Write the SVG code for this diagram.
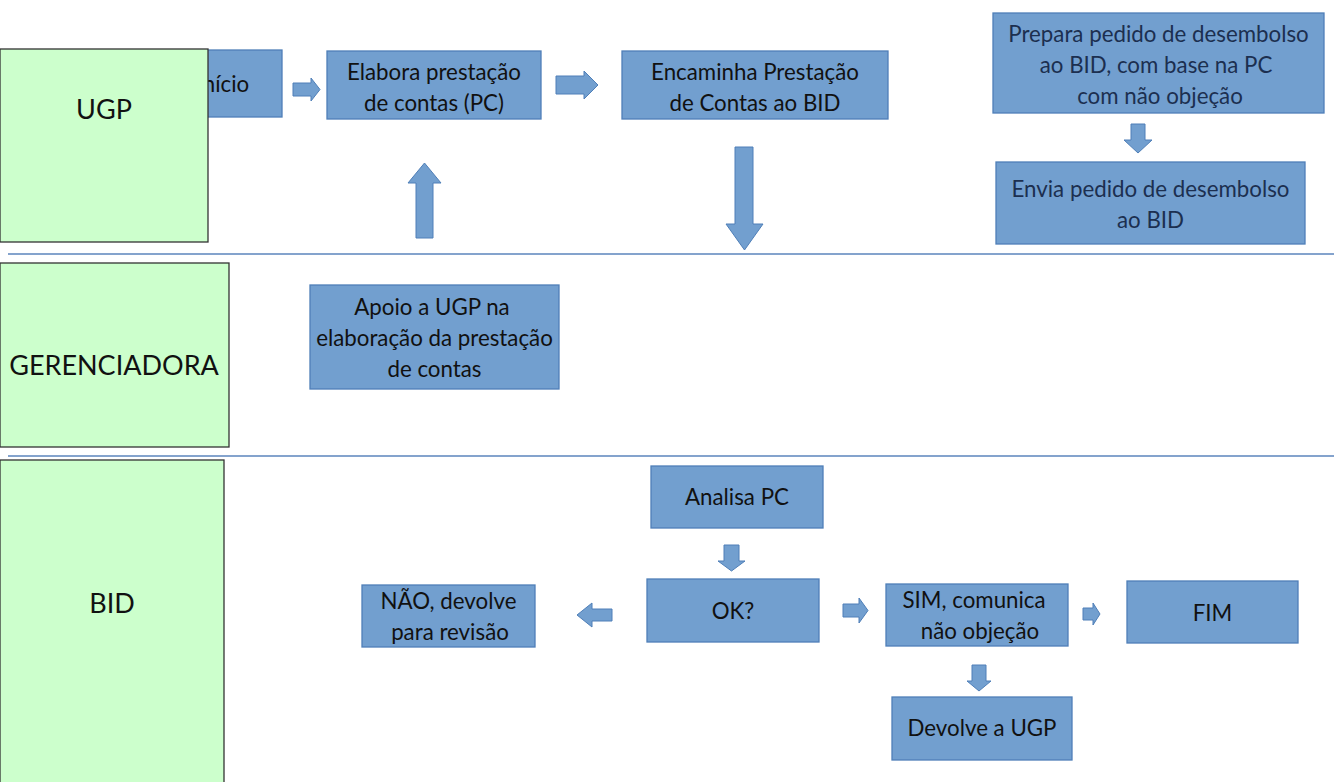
<svg xmlns="http://www.w3.org/2000/svg" width="1334" height="782" viewBox="0 0 1334 782">
<style>
.lane{fill:#ccffcc;stroke:#333;stroke-width:1.3}
.box{fill:#729fcf;stroke:#4f7fb8;stroke-width:1.3}
.arr{fill:#729fcf;stroke:#4f7fb8;stroke-width:1}
.sep{stroke:#5b85bd;stroke-width:1.5}
text{font-family:Lato,"Liberation Sans",sans-serif;font-size:22.3px;fill:#111;text-anchor:middle}
.lt{font-size:27px}
.navy{fill:#1c2f50}
</style>
<rect width="1334" height="782" fill="#fff"/>
<g id="connectors">
<line class="sep" x1="8" y1="254" x2="1334" y2="254"/>
<line class="sep" x1="8" y1="456" x2="1334" y2="456"/>
<path class="arr" d="M293,83H311V78L320,89.5L311,101V96H293Z"/>
<path class="arr" d="M556,76H584V71L598,85L584,99V94H556Z"/>
<path class="arr" d="M416,238V183H408L424.5,163L441,183H433V238Z"/>
<path class="arr" d="M735,147H753V224H763L744.5,250L726,224H735Z"/>
<path class="arr" d="M1131,124H1145V140H1152L1138,153L1124,140H1131Z"/>
<path class="arr" d="M724,545H739V561H745L731.5,571L718,561H724Z"/>
<path class="arr" d="M612,609H592V603L577,615L592,627V621H612Z"/>
<path class="arr" d="M843,604H859V598L868,610.5L859,623V617H843Z"/>
<path class="arr" d="M1083,608H1093V603L1100,614L1093,625V620H1083Z"/>
<path class="arr" d="M972,665H986V681H991L979,691L967,681H972Z"/>
</g>
<g id="inicio"><rect class="box" x="160" y="50" width="122" height="67"/><text x="223" y="92">Início</text></g>
<g id="lane-ugp"><rect class="lane" x="0" y="49" width="208" height="193"/><text class="lt" x="104" y="119">UGP</text></g>
<g id="elabora"><rect class="box" x="327" y="51" width="214" height="68"/><text x="434" y="80">Elabora prestação</text><text x="434" y="111">de contas (PC)</text></g>
<g id="encaminha"><rect class="box" x="622" y="51" width="266" height="68"/><text x="755" y="80">Encaminha Prestação</text><text x="755" y="111">de Contas ao BID</text></g>
<g id="prepara"><rect class="box" x="993" y="13" width="331" height="100"/><text class="navy" x="1158.5" y="42">Prepara pedido de desembolso</text><text class="navy" x="1156" y="73">ao BID, com base na PC</text><text class="navy" x="1160" y="104">com não objeção</text></g>
<g id="envia"><rect class="box" x="996" y="162" width="309" height="82"/><text class="navy" x="1150.5" y="197">Envia pedido de desembolso</text><text class="navy" x="1150.5" y="228">ao BID</text></g>
<g id="lane-gerenciadora"><rect class="lane" x="0" y="263" width="229" height="184"/><text class="lt" x="114" y="375">GERENCIADORA</text></g>
<g id="apoio"><rect class="box" x="310" y="285" width="249" height="104"/><text x="432" y="315">Apoio a UGP na</text><text x="434.5" y="346">elaboração da prestação</text><text x="434.5" y="377">de contas</text></g>
<g id="lane-bid"><rect class="lane" x="0" y="460" width="224" height="330"/><text class="lt" x="112" y="613">BID</text></g>
<g id="analisa"><rect class="box" x="651" y="466" width="172" height="62"/><text x="737" y="505">Analisa PC</text></g>
<g id="ok"><rect class="box" x="647" y="579" width="172" height="63"/><text x="733" y="619">OK?</text></g>
<g id="nao"><rect class="box" x="362" y="585" width="173" height="62"/><text x="448.5" y="609">NÃO, devolve</text><text x="450" y="640">para revisão</text></g>
<g id="sim"><rect class="box" x="886" y="584" width="182" height="62"/><text x="974" y="608">SIM, comunica</text><text x="980" y="639">não objeção</text></g>
<g id="fim"><rect class="box" x="1127" y="581" width="171" height="62"/><text x="1212.5" y="621">FIM</text></g>
<g id="devolve"><rect class="box" x="892" y="697" width="180" height="63"/><text x="982" y="736">Devolve a UGP</text></g>
</svg>
